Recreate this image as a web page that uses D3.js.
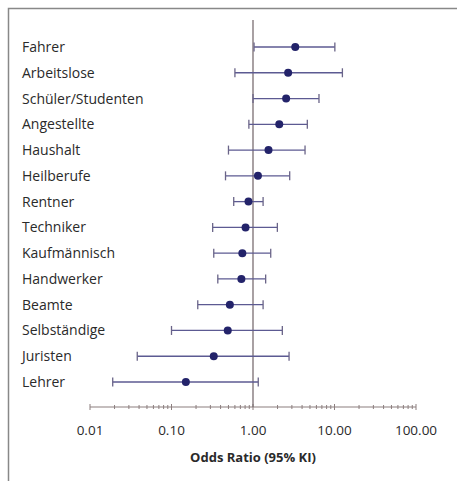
<!DOCTYPE html>
<html>
<head>
<meta charset="utf-8">
<script src="https://cdn.jsdelivr.net/npm/d3@7"></script>
<style>
  body { margin: 0; background: #fff; }
  svg { display: block; font-family: "Open Sans", "Noto Sans", sans-serif; }
</style>
</head>
<body>
<div id="chart"></div>
<script>
// categories top to bottom
var groups = ["Fahrer", "Arbeitslose", "Schüler/Studenten", "Angestellte", "Haushalt",
  "Heilberufe", "Rentner", "Techniker", "Kaufmännisch", "Handwerker", "Beamte",
  "Selbständige", "Juristen", "Lehrer"];
// odds ratio and 95% KI
var oddsRatio = [3.3, 2.7, 2.55, 2.1, 1.55, 1.15, 0.88, 0.81, 0.74, 0.72, 0.52, 0.49, 0.33, 0.15];
var ciLow     = [1.03, 0.60, 1.0, 0.89, 0.50, 0.46, 0.58, 0.32, 0.33, 0.37, 0.21, 0.10, 0.038, 0.019];
var ciHigh    = [10.1, 12.5, 6.45, 4.64, 4.35, 2.82, 1.33, 1.99, 1.65, 1.43, 1.33, 2.29, 2.77, 1.16];
var tickValues = [0.01, 0.1, 1, 10, 100];
var tickLabels = ["0.01", "0.10", "1.00", "10.00", "100.00"];

var width = 457, height = 481;
var svg = d3.select("#chart").append("svg")
  .attr("width", width)
  .attr("height", height);

// outer frame (cropped at right and bottom)
svg.append("path")
  .attr("d", "M8.5," + (height + 2) + "V8.5H" + (width + 2))
  .attr("fill", "none")
  .attr("stroke", "#888")
  .attr("stroke-width", 1.5);

var x = d3.scaleLog().domain([0.01, 100]).range([90, 416]);
var y = d3.scalePoint().domain(groups).range([47, 382]);
var axisY = 407;

// axis line with log ticks
var axis = svg.append("g").attr("class", "axis");
axis.append("line")
  .attr("x1", x(0.01)).attr("x2", x(100))
  .attr("y1", axisY).attr("y2", axisY)
  .attr("stroke", "#8c7f7f").attr("stroke-width", 1.2);

var minor = [];
for (var d = 0.01; d < 100; d *= 10) {
  for (var k = 1; k < 10; k++) minor.push(d * k);
}
minor.push(100);
axis.selectAll(".tick").data(minor).enter().append("line")
  .attr("x1", function (v) { return x(v); })
  .attr("x2", function (v) { return x(v); })
  .attr("y1", function (v, i) { return axisY - (i % 9 === 0 ? 3 : 2); })
  .attr("y2", function (v, i) { return axisY + (i % 9 === 0 ? 3 : 2); })
  .attr("stroke", "#8c7f7f").attr("stroke-width", 1);

axis.selectAll(".lbl").data(tickValues).enter().append("text")
  .attr("x", function (v) { return x(v); })
  .attr("y", 435)
  .attr("text-anchor", "middle")
  .attr("font-size", 13.5)
  .attr("fill", "#2a2a2a")
  .text(function (v, i) { return tickLabels[i]; });

svg.append("text")
  .attr("x", x(1))
  .attr("y", 462)
  .attr("text-anchor", "middle")
  .attr("font-size", 13)
  .attr("font-weight", "bold")
  .attr("fill", "#2a2a2a")
  .text("Odds Ratio (95% KI)");

// reference line at OR = 1
svg.append("line")
  .attr("x1", x(1)).attr("x2", x(1))
  .attr("y1", 20).attr("y2", axisY)
  .attr("stroke", "#7a6e72").attr("stroke-width", 1.3);

// category labels
svg.selectAll(".group").data(groups).enter().append("text")
  .attr("x", 22)
  .attr("y", function (g) { return y(g) + 5; })
  .attr("font-size", 14)
  .attr("fill", "#2a2a2a")
  .text(function (g) { return g; });

// error bars and points
var rows = svg.selectAll(".row").data(groups).enter().append("g");
rows.append("line")
  .attr("x1", function (g, i) { return x(ciLow[i]); })
  .attr("x2", function (g, i) { return x(ciHigh[i]); })
  .attr("y1", function (g) { return y(g); })
  .attr("y2", function (g) { return y(g); })
  .attr("stroke", "#5c5a92").attr("stroke-width", 1.3);
[ciLow, ciHigh].forEach(function (arr) {
  rows.append("line")
    .attr("x1", function (g, i) { return x(arr[i]); })
    .attr("x2", function (g, i) { return x(arr[i]); })
    .attr("y1", function (g) { return y(g) - 4.5; })
    .attr("y2", function (g) { return y(g) + 4.5; })
    .attr("stroke", "#6a6488").attr("stroke-width", 1.3);
});
rows.append("circle")
  .attr("cx", function (g, i) { return x(oddsRatio[i]); })
  .attr("cy", function (g) { return y(g); })
  .attr("r", 4)
  .attr("fill", "#23236a");
</script>
</body>
</html>
